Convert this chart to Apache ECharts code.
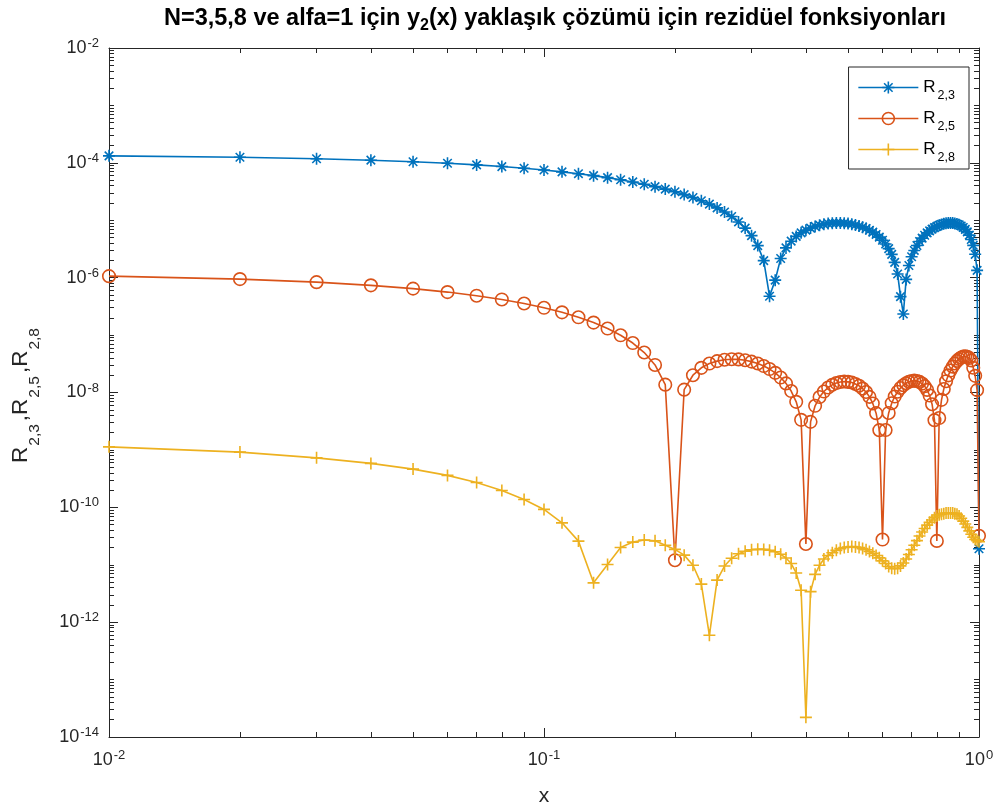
<!DOCTYPE html>
<html>
<head>
<meta charset="utf-8">
<title>Rezidüel fonksiyonları</title>
<script src="https://cdn.jsdelivr.net/npm/echarts@6/dist/echarts.min.js"></script>
<style>
  html, body { margin: 0; padding: 0; background: #fff; }
  #chart { width: 1000px; height: 809px; }
</style>
</head>
<body>
<div id="chart"></div>
<script>
  // x noktaları 0.01 ... 1.00
  const xs = [
    0.01, 0.02, 0.03, 0.04, 0.05, 0.06, 0.07, 0.08, 0.09, 0.10,
    0.11, 0.12, 0.13, 0.14, 0.15, 0.16, 0.17, 0.18, 0.19, 0.20,
    0.21, 0.22, 0.23, 0.24, 0.25, 0.26, 0.27, 0.28, 0.29, 0.30,
    0.31, 0.32, 0.33, 0.34, 0.35, 0.36, 0.37, 0.38, 0.39, 0.40,
    0.41, 0.42, 0.43, 0.44, 0.45, 0.46, 0.47, 0.48, 0.49, 0.50,
    0.51, 0.52, 0.53, 0.54, 0.55, 0.56, 0.57, 0.58, 0.59, 0.60,
    0.61, 0.62, 0.63, 0.64, 0.65, 0.66, 0.67, 0.68, 0.69, 0.70,
    0.71, 0.72, 0.73, 0.74, 0.75, 0.76, 0.77, 0.78, 0.79, 0.80,
    0.81, 0.82, 0.83, 0.84, 0.85, 0.86, 0.87, 0.88, 0.89, 0.90,
    0.91, 0.92, 0.93, 0.94, 0.95, 0.96, 0.97, 0.98, 0.99, 1.00
  ];

  const r23 = [
    1.324e-4, 1.251e-4, 1.180e-4, 1.112e-4, 1.046e-4, 9.82e-5, 9.21e-5, 8.61e-5, 8.04e-5, 7.50e-5,
    6.97e-5, 6.47e-5, 5.98e-5, 5.52e-5, 5.07e-5, 4.65e-5, 4.24e-5, 3.85e-5, 3.49e-5, 3.14e-5,
    2.80e-5, 2.49e-5, 2.19e-5, 1.91e-5, 1.64e-5, 1.39e-5, 1.16e-5, 9.35e-6, 7.30e-6, 5.39e-6,
    3.62e-6, 1.98e-6, 4.74e-7, 9.06e-7, 2.16e-6, 3.30e-6, 4.32e-6, 5.23e-6, 6.03e-6, 6.72e-6,
    7.31e-6, 7.81e-6, 8.22e-6, 8.53e-6, 8.76e-6, 8.91e-6, 8.97e-6, 8.97e-6, 8.89e-6, 8.75e-6,
    8.54e-6, 8.28e-6, 7.96e-6, 7.59e-6, 7.17e-6, 6.70e-6, 6.20e-6, 5.66e-6, 5.08e-6, 4.48e-6,
    3.85e-6, 3.20e-6, 2.54e-6, 1.85e-6, 1.16e-6, 4.67e-7, 2.33e-7, 9.32e-7, 1.63e-6, 2.31e-6,
    2.98e-6, 3.64e-6, 4.27e-6, 4.89e-6, 5.47e-6, 6.02e-6, 6.54e-6, 7.02e-6, 7.45e-6, 7.84e-6,
    8.18e-6, 8.46e-6, 8.69e-6, 8.85e-6, 8.95e-6, 8.98e-6, 8.94e-6, 8.82e-6, 8.62e-6, 8.33e-6,
    7.96e-6, 7.49e-6, 6.93e-6, 6.27e-6, 5.50e-6, 4.63e-6, 3.65e-6, 2.55e-6, 1.34e-6, 1.9e-11
  ];

  const r25 = [
    1.062e-6, 9.44e-7, 8.35e-7, 7.35e-7, 6.44e-7, 5.61e-7, 4.85e-7, 4.17e-7, 3.55e-7, 2.99e-7,
    2.49e-7, 2.04e-7, 1.65e-7, 1.30e-7, 9.92e-8, 7.27e-8, 4.97e-8, 3.02e-8, 1.37e-8, 1.2e-11,
    1.12e-8, 2.00e-8, 2.69e-8, 3.19e-8, 3.52e-8, 3.72e-8, 3.80e-8, 3.77e-8, 3.65e-8, 3.45e-8,
    3.20e-8, 2.89e-8, 2.56e-8, 2.20e-8, 1.82e-8, 1.44e-8, 1.06e-8, 6.88e-9, 3.34e-9, 2.3e-11,
    3.08e-9, 5.87e-9, 8.33e-9, 1.04e-8, 1.22e-8, 1.36e-8, 1.46e-8, 1.52e-8, 1.55e-8, 1.53e-8,
    1.49e-8, 1.41e-8, 1.31e-8, 1.17e-8, 1.02e-8, 8.39e-9, 6.44e-9, 4.37e-9, 2.21e-9, 2.75e-11,
    2.22e-9, 4.40e-9, 6.51e-9, 8.51e-9, 1.03e-8, 1.20e-8, 1.34e-8, 1.45e-8, 1.54e-8, 1.59e-8,
    1.61e-8, 1.59e-8, 1.53e-8, 1.43e-8, 1.29e-8, 1.11e-8, 8.85e-9, 6.26e-9, 3.30e-9, 2.6e-11,
    3.59e-9, 7.44e-9, 1.15e-8, 1.57e-8, 1.99e-8, 2.41e-8, 2.82e-8, 3.20e-8, 3.55e-8, 3.84e-8,
    4.07e-8, 4.22e-8, 4.27e-8, 4.20e-8, 3.99e-8, 3.62e-8, 2.70e-8, 1.95e-8, 1.10e-8, 3.2e-11
  ];

  const r28 = [
    1.13e-9, 9.16e-10, 7.28e-10, 5.82e-10, 4.63e-10, 3.60e-10, 2.71e-10, 1.97e-10, 1.37e-10, 9.2e-11,
    5.37e-11, 2.58e-11, 4.84e-12, 1.01e-11, 2.0e-11, 2.48e-11, 2.69e-11, 2.61e-11, 2.19e-11, 1.85e-11,
    1.47e-11, 9.8e-12, 4.6e-12, 5.9e-13, 5.4e-12, 9.5e-12, 1.3e-11, 1.55e-11, 1.72e-11, 1.82e-11,
    1.86e-11, 1.85e-11, 1.79e-11, 1.68e-11, 1.52e-11, 1.31e-11, 1.05e-11, 7.2e-12, 3.6e-12, 2.2e-14,
    3.4e-12, 6.8e-12, 9.8e-12, 1.26e-11, 1.45e-11, 1.62e-11, 1.78e-11, 1.91e-11, 2.00e-11, 2.04e-11,
    2.07e-11, 2.04e-11, 2.00e-11, 1.91e-11, 1.82e-11, 1.70e-11, 1.58e-11, 1.45e-11, 1.32e-11, 1.17e-11,
    1.05e-11, 9.33e-12, 8.71e-12, 8.51e-12, 8.71e-12, 9.55e-12, 1.07e-11, 1.26e-11, 1.51e-11, 1.82e-11,
    2.19e-11, 2.63e-11, 3.16e-11, 3.72e-11, 4.27e-11, 4.90e-11, 5.50e-11, 6.03e-11, 6.61e-11, 7.08e-11,
    7.41e-11, 7.59e-11, 7.76e-11, 7.94e-11, 7.94e-11, 7.94e-11, 7.94e-11, 7.76e-11, 7.59e-11, 7.08e-11,
    6.46e-11, 5.75e-11, 5.13e-11, 4.47e-11, 3.89e-11, 3.39e-11, 3.02e-11, 2.75e-11, 2.63e-11, 2.51e-11
  ];

  const seriesNames = ['R23', 'R25', 'R28'];
  const seriesSubs = {R23: '2,3', R25: '2,5', R28: '2,8'};
  const colors = ['#0072BD', '#D95319', '#EDB120'];

  // etiketli (büyük) tikler
  const xLabels = [0.01, 0.1, 1];
  const yLabels = [1e-14, 1e-12, 1e-10, 1e-8, 1e-6, 1e-4, 1e-2];

  // küçük tikler
  const xMinor = [];
  for (let k = -2; k <= -1; k++) {
    for (let d = 2; d <= 9; d++) xMinor.push(d * Math.pow(10, k));
  }
  const yMinor = [];
  for (let k = -14; k <= -3; k++) {
    if (k % 2 !== 0) yMinor.push(Math.pow(10, k));
    for (let d = 2; d <= 9; d++) yMinor.push(d * Math.pow(10, k));
  }

  const FONT = 'Liberation Sans';
  const AX = '#262626';

  const asterisk = 'path://M5,0L5,10M0,5L10,5M1.46,1.46L8.54,8.54M8.54,1.46L1.46,8.54';
  const plus = 'path://M5,0L5,10M0,5L10,5';
  const symbols = [asterisk, 'circle', plus];
  const symSizes = [12, 12.5, 12];

  const powLabel = function (v) {
    const e = Math.round(Math.log10(v));
    return '{b|10}{s|' + e + '}';
  };
  const powRich = {
    b: {fontFamily: FONT, fontSize: 18, lineHeight: 22, color: AX},
    s: {fontFamily: FONT, fontSize: 13, lineHeight: 13, verticalAlign: 'top', color: AX, padding: [0, 0, 0, 1]}
  };

  function xAxisOf(grid, pos, ticks, len, labels) {
    return {
      gridIndex: grid, type: 'log', logBase: 10, min: 0.01, max: 1, position: pos,
      axisLine: {show: grid === 0, onZero: false, lineStyle: {color: AX, width: 1}},
      axisTick: {show: true, inside: true, length: len, customValues: ticks, lineStyle: {color: AX, width: 1}},
      axisLabel: labels ? {show: true, customValues: labels, formatter: powLabel, rich: powRich, margin: 12}
                        : {show: false},
      splitLine: {show: false},
      minorTick: {show: false}
    };
  }

  function yAxisOf(grid, pos, ticks, len, labels) {
    return {
      gridIndex: grid, type: 'log', logBase: 10, min: 1e-14, max: 1e-2, position: pos,
      axisLine: {show: grid === 0, onZero: false, lineStyle: {color: AX, width: 1}},
      axisTick: {show: true, inside: true, length: len, customValues: ticks, lineStyle: {color: AX, width: 1}},
      axisLabel: labels ? {show: true, customValues: labels, formatter: powLabel, rich: powRich, margin: 10}
                        : {show: false},
      splitLine: {show: false},
      minorTick: {show: false}
    };
  }

  const series = seriesNames.map(function (name, i) {
    const vals = [r23, r25, r28][i];
    return {
      name: name,
      type: 'line',
      xAxisIndex: 0,
      yAxisIndex: 0,
      data: xs.map(function (x, j) { return [x, vals[j]]; }),
      symbol: symbols[i],
      symbolSize: symSizes[i],
      showAllSymbol: true,
      clip: false,
      lineStyle: {color: colors[i], width: 1.6},
      itemStyle: {color: 'none', borderColor: colors[i], borderWidth: 1.6},
      emphasis: {disabled: true},
      animation: false
    };
  });

  const chart = echarts.init(document.getElementById('chart'), null, {renderer: 'canvas'});
  chart.setOption({
    backgroundColor: '#fff',
    animation: false,
    grid: [
      {left: 109, right: 21, top: 48, bottom: 72, outerBoundsMode: 'none'},
      {left: 109, right: 21, top: 48, bottom: 72, outerBoundsMode: 'none'}
    ],
    xAxis: [
      xAxisOf(0, 'bottom', xLabels, 9, xLabels),
      xAxisOf(0, 'top', xLabels, 9, null),
      xAxisOf(1, 'bottom', xMinor, 5, null),
      xAxisOf(1, 'top', xMinor, 5, null)
    ],
    yAxis: [
      yAxisOf(0, 'left', yLabels, 9, yLabels),
      yAxisOf(0, 'right', yLabels, 9, null),
      yAxisOf(1, 'left', yMinor, 5, null),
      yAxisOf(1, 'right', yMinor, 5, null)
    ],
    legend: {
      orient: 'vertical',
      right: 31,
      top: 67,
      padding: [12, 14, 5, 9],
      itemGap: 8,
      itemWidth: 60,
      itemHeight: 15,
      borderColor: AX,
      borderWidth: 1,
      borderRadius: 0,
      backgroundColor: '#fff',
      selectedMode: false,
      data: seriesNames.map(function (name, i) {
        return {
          name: name,
          itemStyle: {color: 'none', borderColor: colors[i], borderWidth: 1.6},
          lineStyle: {color: colors[i], width: 1.6}
        };
      }),
      formatter: function (name) { return '{r|R}{s|' + seriesSubs[name] + '}'; },
      textStyle: {
        rich: {
          r: {fontFamily: FONT, fontSize: 17, lineHeight: 29, color: '#000'},
          s: {fontFamily: FONT, fontSize: 12.5, lineHeight: 12.5, verticalAlign: 'bottom', color: '#000', padding: [0, 0, 0, 2]}
        }
      }
    },
    graphic: [
      {
        type: 'text', x: 555, y: 19,
        style: {
          text: '{t|N=3,5,8 ve alfa=1 için y}{u|2}{t|(x) yaklaşık çözümü için rezidüel fonksiyonları}',
          align: 'center', verticalAlign: 'middle',
          rich: {
            t: {fontFamily: FONT, fontSize: 23.5, fontWeight: 'bold', lineHeight: 30, fill: '#000', color: '#000'},
            u: {fontFamily: FONT, fontSize: 16, fontWeight: 'bold', lineHeight: 16, verticalAlign: 'bottom', fill: '#000', color: '#000'}
          }
        }
      },
      {
        type: 'text', x: 544, y: 796,
        style: {
          text: 'x', align: 'center', verticalAlign: 'middle',
          font: '21px "Liberation Sans"', fill: AX
        }
      },
      {
        type: 'text', x: 21, y: 394, rotation: Math.PI / 2,
        style: {
          text: '{r|R}{s|2,3}{r|,R}{s|2,5}{r|,R}{s|2,8}',
          align: 'center', verticalAlign: 'middle',
          rich: {
            r: {fontFamily: FONT, fontSize: 22.5, lineHeight: 43, fill: AX, color: AX},
            s: {fontFamily: FONT, fontSize: 15.5, lineHeight: 15.5, verticalAlign: 'bottom', fill: AX, color: AX, padding: [0, 3, 0, 1]}
          }
        }
      }
    ],
    series: series
  });
</script>
</body>
</html>
